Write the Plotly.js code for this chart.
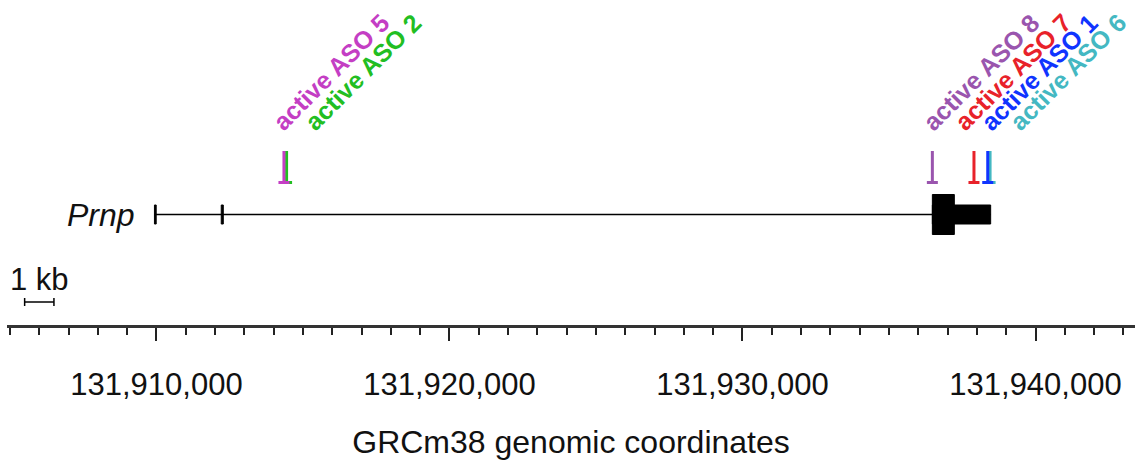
<!DOCTYPE html>
<html><head><meta charset="utf-8">
<script src="https://cdn.plot.ly/plotly-3.0.1.min.js"></script>
<style>html,body{margin:0;padding:0;background:#fff}#chart{width:1135px;height:460px}</style>
</head><body><div id="chart"></div>
<script>
// ---------------- data (GRCm38 chr2 coordinates) ----------------
const geneName = 'Prnp';
const geneStart = 131909930;
const geneEnd = 131938470;
const exonStarts = [131909930, 131912210, 131936480];
const exonEnds   = [131909990, 131912280, 131938470];
const cdsStart = 131936480;
const cdsEnd = 131937230;

const asoNames = ['active ASO 5', 'active ASO 2', 'active ASO 8', 'active ASO 7', 'active ASO 1', 'active ASO 6'];
const asoPositions = [131914350, 131914440, 131936480, 131937900, 131938370, 131938450];
const asoLabelAnchors = [131914040, 131915130, 131936240, 131937310, 131938220, 131939190];
const asoColors = ['#C43EC4', '#22BE22', '#9A55AE', '#E8222A', '#1034FF', '#44B8C2'];

const majorTicks = [131910000, 131920000, 131930000, 131940000];
const minorStep = 1000;
const scaleBarStart = 131905500;
const scaleBarLength = 1000;
const scaleBarLabel = '1 kb';
const axisTitle = 'GRCm38 genomic coordinates';

// ---------------- layout constants ----------------
const W = 1135, H = 460;
const marginL = 7, marginR = 0, marginT = 0, marginB = 135;
const plotW = W - marginL - marginR;
const xRange = [131904898, 131943396];
const bpPerPx = (xRange[1] - xRange[0]) / plotW;
const yRange = [H - marginB, 0]; // y in pixel-like units from top

const FONT = 'Liberation Sans, Arial, Helvetica, sans-serif';
const geneY = 214.5, utrHalf = 9.5, cdsHalf = 20;
const stemTop = 151, stemBottom = 184, footY = 182.5, footHalfPx = 5.5;
const labelY = 137, labelShiftPx = -9;
const barY = 302, capHalf = 4;

const traces = [];
// intron line
traces.push({x: [geneStart, geneEnd], y: [geneY, geneY], mode: 'lines',
  line: {color: '#000', width: 1.5}, hoverinfo: 'skip', showlegend: false});

// ASO markers (drawn in reverse so earlier ones are on top)
for (let i = asoNames.length - 1; i >= 0; i--) {
  const p = asoPositions[i], hw = footHalfPx * bpPerPx;
  traces.push({x: [p, p, null, p - hw, p + hw], y: [stemTop, stemBottom, null, footY, footY],
    mode: 'lines', line: {color: asoColors[i], width: 3}, name: asoNames[i],
    hoverinfo: 'name', showlegend: false});
}

// scale bar
const sb0 = scaleBarStart, sb1 = scaleBarStart + scaleBarLength;
traces.push({x: [sb0, sb1, null, sb0, sb0, null, sb1, sb1],
  y: [barY, barY, null, barY - capHalf, barY + capHalf, null, barY - capHalf, barY + capHalf],
  mode: 'lines', line: {color: '#000', width: 1.5}, hoverinfo: 'skip', showlegend: false});

// exon shapes
const shapes = [];
for (let i = 0; i < exonStarts.length; i++) {
  shapes.push({type: 'rect', xref: 'x', yref: 'y', x0: exonStarts[i], x1: exonEnds[i],
    y0: geneY - utrHalf, y1: geneY + utrHalf, fillcolor: '#000', line: {color: '#000', width: 1}});
  const c0 = Math.max(exonStarts[i], cdsStart), c1 = Math.min(exonEnds[i], cdsEnd);
  if (c1 > c0) {
    shapes.push({type: 'rect', xref: 'x', yref: 'y', x0: c0, x1: c1,
      y0: geneY - cdsHalf, y1: geneY + cdsHalf, fillcolor: '#000', line: {color: '#000', width: 1}});
  }
}

// annotations
const annotations = [];
annotations.push({x: geneStart, y: geneY, xref: 'x', yref: 'y', text: '<i>' + geneName + '</i>',
  showarrow: false, xanchor: 'right', yanchor: 'middle', xshift: -17,
  font: {family: FONT, size: 32, color: '#111'}});
annotations.push({x: sb0 + scaleBarLength / 2, y: 279, xref: 'x', yref: 'y', text: scaleBarLabel,
  showarrow: false, xanchor: 'center', yanchor: 'middle',
  font: {family: FONT, size: 31, color: '#111'}});
for (let i = 0; i < asoNames.length; i++) {
  annotations.push({x: asoLabelAnchors[i], y: labelY, xref: 'x', yref: 'y', text: '<b>' + asoNames[i] + '</b>',
    showarrow: false, xanchor: 'left', yanchor: 'bottom', textangle: -45, xshift: labelShiftPx,
    borderpad: 0, font: {family: FONT, size: 25, color: asoColors[i]}});
}

const layout = {
  width: W, height: H,
  margin: {l: marginL, r: marginR, t: marginT, b: marginB, pad: 0},
  paper_bgcolor: '#fff', plot_bgcolor: '#fff',
  showlegend: false,
  xaxis: {
    range: xRange, showgrid: false, zeroline: false,
    showline: true, linecolor: '#333', linewidth: 2.5,
    tickmode: 'array', tickvals: majorTicks, tickformat: ',d',
    ticks: 'outside', ticklen: 13, tickwidth: 2, tickcolor: '#222',
    ticklabelstandoff: 17,
    minor: {dtick: minorStep, tick0: majorTicks[0], ticks: 'outside', ticklen: 7, tickwidth: 2, tickcolor: '#222', showgrid: false},
    tickfont: {family: FONT, size: 31, color: '#111'},
    title: {text: axisTitle, font: {family: FONT, size: 32, color: '#111'}, standoff: 34},
    fixedrange: true
  },
  yaxis: {range: yRange, visible: false, fixedrange: true, showgrid: false, zeroline: false},
  shapes: shapes,
  annotations: annotations
};

Plotly.newPlot('chart', traces, layout, {displayModeBar: false, staticPlot: true});
</script>
</body></html>
